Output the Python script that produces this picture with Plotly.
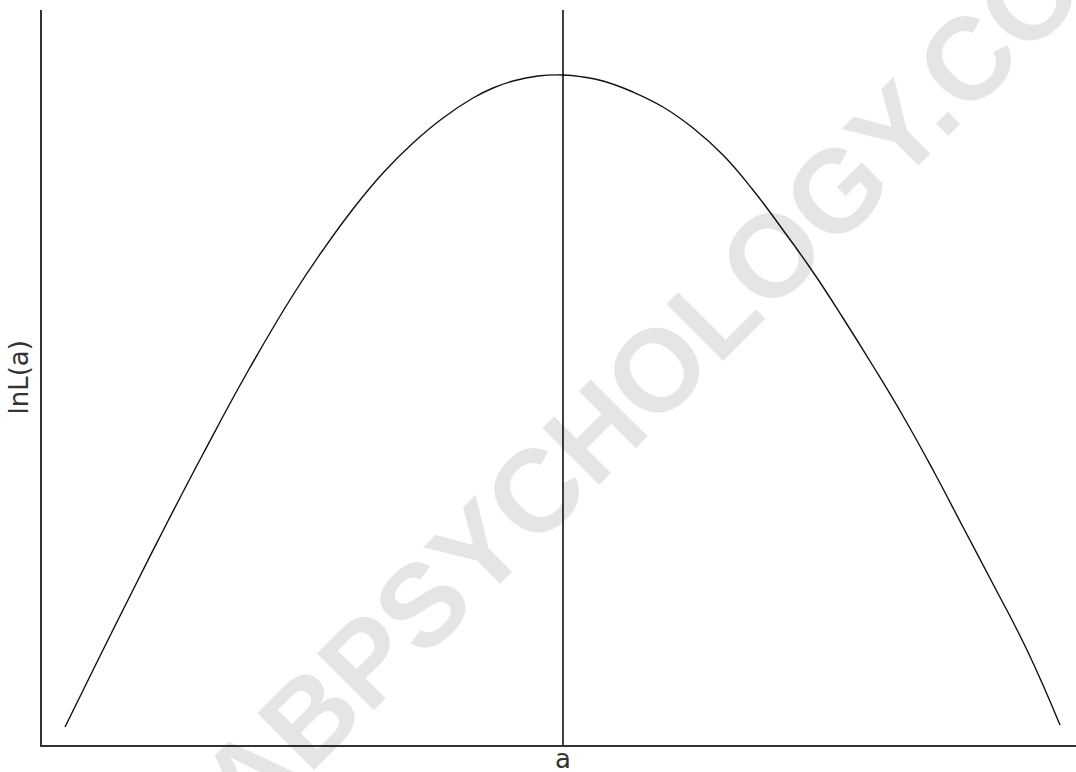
import plotly.graph_objects as go

# Values (arbitrary units of a and lnL(a))
a_values = [23, 57, 91, 126, 161, 206, 251, 281, 311, 341, 371, 401, 431, 451, 471, 496, 521,
            541, 561, 591, 621, 651, 681, 711, 741, 771, 801, 831, 861, 891, 921, 951, 985, 1018]
lnL_values = [18, 87, 155, 224, 291, 374, 450, 495, 536, 572, 602, 627, 647, 657, 664, 669, 670,
              668, 664, 653, 638, 617, 590, 555, 515, 473, 427, 379, 329, 275, 218, 161, 95, 20]
a_hat = 521
x_range = [0, 1034]
y_range = [0, 735]
x_tick_label = "a"
y_title = "lnL(a)"
watermark = "LABPSYCHOLOGY.COM"

fig = go.Figure()

fig.add_trace(go.Scatter(
    x=a_values, y=lnL_values, mode="lines",
    line=dict(color="#111111", width=1.4, shape="spline", smoothing=1.3),
    hoverinfo="skip", showlegend=False,
))

fig.add_vline(x=a_hat, line=dict(color="#000000", width=1.5))

fig.add_annotation(
    text=watermark, xref="paper", yref="paper", x=0.588, y=0.502,
    xanchor="center", yanchor="middle", textangle=-45, showarrow=False,
    font=dict(family="Liberation Sans", size=117, color="rgba(0,0,0,0.10)", weight="bold"),
)

fig.add_annotation(
    text=y_title, xref="paper", yref="paper", x=0, y=0.5, xshift=-24,
    xanchor="center", yanchor="middle", textangle=-90, showarrow=False,
    font=dict(family="DejaVu Sans", size=26, color="#333333"),
)

fig.add_annotation(
    text=x_tick_label, xref="x", yref="paper", x=a_hat, y=0, yshift=-14,
    xanchor="center", yanchor="middle", showarrow=False,
    font=dict(family="DejaVu Sans", size=26, color="#333333"),
)

fig.update_layout(
    width=1076, height=772,
    margin=dict(l=42, r=0, t=10, b=27, autoexpand=False),
    paper_bgcolor="white", plot_bgcolor="white",
    xaxis=dict(range=x_range, showgrid=False, zeroline=False, showline=True,
               linecolor="#333333", linewidth=2, ticks="", showticklabels=False,
               automargin=False),
    yaxis=dict(range=y_range, showgrid=False, zeroline=False, showline=True,
               linecolor="#333333", linewidth=2, ticks="", showticklabels=False,
               automargin=False),
)

fig.write_html("out.html", config={"displayModeBar": False},
               post_script="document.body.style.margin='0';document.body.style.overflow='hidden';")
